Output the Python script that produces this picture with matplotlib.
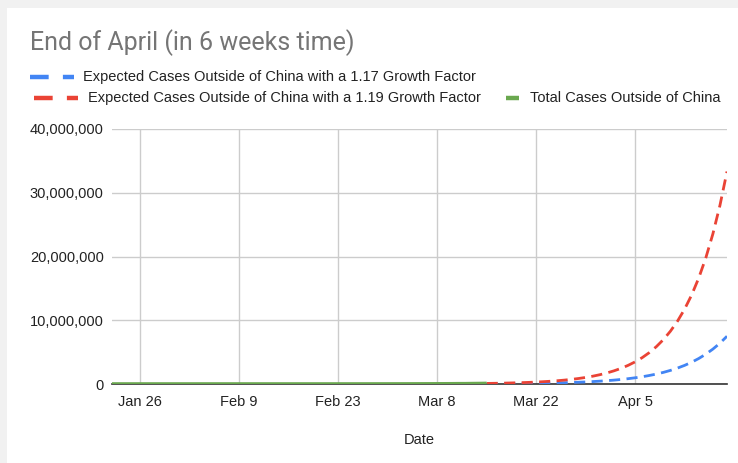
import matplotlib
matplotlib.use("Agg")
import matplotlib.pyplot as plt
import matplotlib.dates as mdates
from matplotlib.lines import Line2D
from matplotlib.patches import Rectangle
import numpy as np
import datetime as dt

plt.rcParams['font.family'] = ['Liberation Sans', 'DejaVu Sans']

# ---- data ----
total_start = dt.date(2020, 1, 22)
total_cases = [10, 20, 30, 40, 55, 70, 85, 100, 120, 140,
               150, 160, 170, 190, 220, 250, 290, 310, 330, 340,
               400, 440, 450, 500, 520, 690, 700, 800, 1000, 1100,
               1200, 1400, 1800, 2100, 2500, 3000, 3700, 4700, 5700,
               7100, 8800, 10500, 12700, 14900, 18000, 21500, 25500, 29300,
               35000, 44000, 46000, 61000, 72000, 87000]

proj_start = dt.date(2020, 3, 15)
growth_119 = [90000, 107100, 127449, 151664, 180480, 214771, 255578, 304138,
              361924, 430690, 512521, 609900, 725781, 863679, 1027778,
              1223056, 1455437, 1731970, 2061044, 2452642, 2918644,
              3473186, 4133091, 4918378, 5852870, 6964915, 8288249,
              9863016, 11736989, 13967017, 16620750, 19778693, 23536644,
              28008606, 33330241]
growth_117 = [36000, 42120, 49280, 57658, 67460, 78929, 92347, 108046,
              126414, 147905, 173049, 202467, 236887, 277158, 324275,
              379402, 443900, 519363, 607655, 710957, 831819, 973228,
              1138677, 1332252, 1558735, 1823720, 2133752, 2496490,
              2920893, 3417445, 3998411, 4678141, 5473425, 6403908,
              7492572]

x_ticks = ["2020-01-26", "2020-02-09", "2020-02-23", "2020-03-08",
           "2020-03-22", "2020-04-05"]
y_ticks = [0, 10000000, 20000000, 30000000, 40000000]

labels = ["Expected Cases Outside of China with a 1.17 Growth Factor",
          "Expected Cases Outside of China with a 1.19 Growth Factor",
          "Total Cases Outside of China"]
title = "End of April (in 6 weeks time)"

dates_total = [total_start + dt.timedelta(days=i) for i in range(len(total_cases))]
dates_proj = [proj_start + dt.timedelta(days=i) for i in range(len(growth_119))]

BLUE = "#4285f4"
RED = "#ea4335"
GREEN = "#6aa84f"
TXT = "#222222"
FS = 10.5

fig = plt.figure(figsize=(7.38, 4.63), dpi=100)
fig.patch.set_facecolor("#f1f1f1")
fig.add_artist(Rectangle((7 / 738, 0), 1, 1 - 8 / 463, transform=fig.transFigure,
                         facecolor="white", edgecolor="none", zorder=0))

ax = fig.add_axes([112 / 738, 1 - 384 / 463, (727 - 112) / 738, (384 - 129) / 463])
ax.set_facecolor("none")

dash = (4, 2.3)
l117, = ax.plot(dates_proj, growth_117, color=BLUE, lw=2.0, dashes=dash, zorder=3)
l119, = ax.plot(dates_proj, growth_119, color=RED, lw=2.0, dashes=dash, zorder=4)
ltot, = ax.plot(dates_total, total_cases, color=GREEN, lw=2.6, zorder=5,
                solid_capstyle="butt")

ax.set_xlim(dt.date(2020, 1, 22), dt.date(2020, 4, 18))
ax.set_ylim(0, 40000000)
ax.set_xticks([mdates.datestr2num(d) for d in x_ticks])
ax.xaxis.set_major_formatter(mdates.DateFormatter("%b %-d"))
ax.set_yticks(y_ticks)
ax.set_yticklabels([f"{v:,}" for v in y_ticks])
ax.grid(True, color="#cccccc", lw=1)
ax.set_axisbelow(True)
for s in ["top", "right", "left"]:
    ax.spines[s].set_visible(False)
ax.spines["bottom"].set_color("#333333")
ax.spines["bottom"].set_linewidth(1.2)
ax.spines["bottom"].set_zorder(2.5)
ax.tick_params(axis="both", length=0, labelsize=FS, colors=TXT)
ax.tick_params(axis="x", pad=8)
ax.tick_params(axis="y", pad=6)
ax.set_xlabel("Date", fontsize=FS, color=TXT, labelpad=17)

fig.text(30 / 738, 1 - 43 / 463, title, fontsize=18, color="#757575",
         va="center", ha="left", family=["Roboto", "DejaVu Sans"])

def legend_item(x0, x1, y, line, text_x, text):
    yf = 1 - y / 463
    h = Line2D([x0 / 738, x1 / 738], [yf, yf], transform=fig.transFigure,
               color=line.get_color(), lw=3.2,
               linestyle=line.get_linestyle(), solid_capstyle="butt")
    if line is not ltot:
        h.set_dashes((4.2, 3.2))
    fig.add_artist(h)
    fig.text(text_x / 738, yf, text, fontsize=FS, color=TXT,
             va="center", ha="left")

legend_item(30, 74, 77, l117, 83, labels[0])
legend_item(34, 78, 98, l119, 88, labels[1])
legend_item(506, 519, 98, ltot, 530, labels[2])

fig.savefig("out.png", dpi=100, facecolor=fig.get_facecolor())
